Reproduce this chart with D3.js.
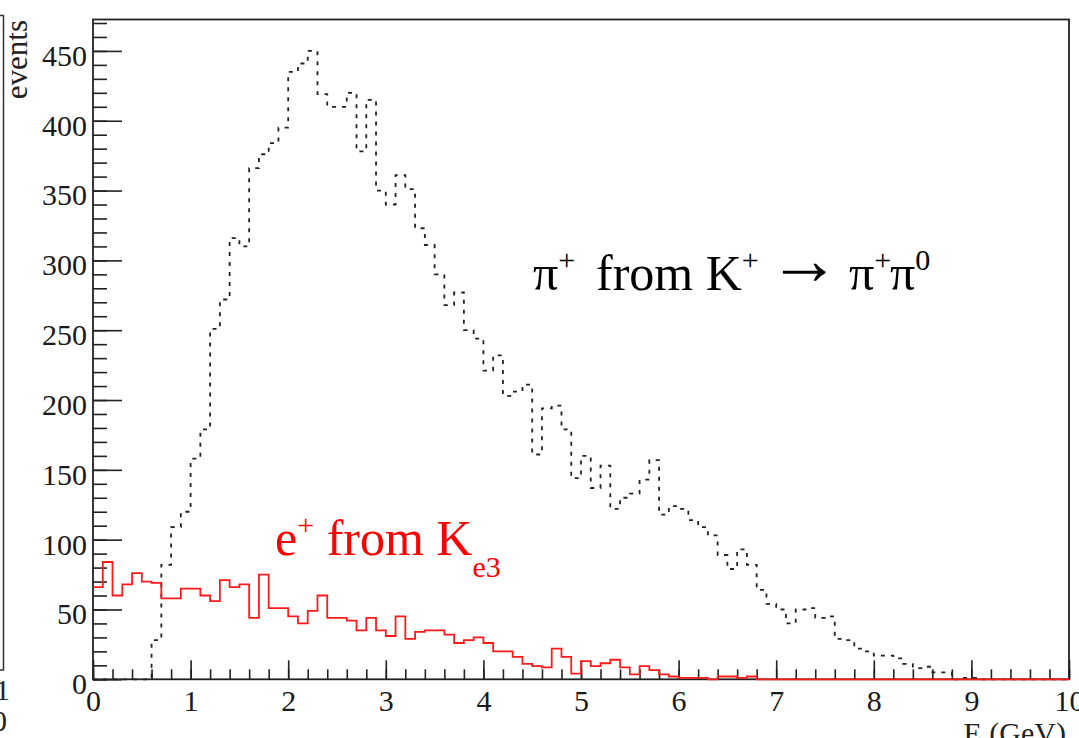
<!DOCTYPE html>
<html>
<head>
<meta charset="utf-8">
<script src="https://cdn.jsdelivr.net/npm/d3@7"></script>
<style>
  body { margin: 0; background: #fff; }
  svg { display: block; font-family: "Liberation Serif", "Times New Roman", serif; }
  .tick line { stroke: #222; stroke-width: 1.6; }
  .tick text { font-family: "Liberation Serif", "Times New Roman", serif; font-size: 30px; fill: #1a1a1a; }
</style>
</head>
<body>
<svg id="chart" width="1079" height="738"></svg>
<script>
// bins of 0.1 GeV from 0 to 10
var binWidth = 0.1;
var piPlus = [0, 0, 0, 0, 0, 0, 28, 82, 109, 120,
	158, 179, 251, 272, 316, 310, 366, 376, 384, 395,
	435, 441, 450, 419, 410, 410, 420, 378, 415, 350,
	340, 361, 351, 323, 311, 290, 268, 277, 250, 244,
	221, 232, 203, 206, 211, 161, 194, 196, 179, 144,
	160, 137, 153, 122, 130, 133, 143, 157, 118, 124,
	122, 114, 109, 103, 89, 79, 93, 82, 64, 54,
	50, 40, 50, 51, 44, 45, 29, 28, 22, 20,
	17, 17, 15, 11, 8, 9, 5, 5, 0, 1,
	1, 0, 0, 0, 0, 0, 0, 0, 0, 0];
var ePlus = [66, 84, 60, 68, 76, 70, 69, 58, 58, 65,
	65, 60, 56, 71, 66, 68, 44, 75, 51, 51,
	45, 40, 49, 60, 44, 44, 42, 35, 44, 35,
	31, 45, 29, 34, 35, 35, 32, 26, 28, 30,
	26, 20, 20, 16, 11, 9.5, 8.5, 22, 16, 4,
	13, 9.5, 11.5, 14, 8.5, 3.5, 9.5, 6.5, 3.5, 2,
	1, 1, 1, 0, 2, 2, 1, 2, 0, 0,
	0, 0, 0, 0, 0, 0, 0, 0, 0, 0,
	0, 0, 0, 0, 0, 0, 0, 0, 0, 0,
	0, 0, 0, 0, 0, 0, 0, 0, 0, 0];
var xMajor = [0, 1, 2, 3, 4, 5, 6, 7, 8, 9, 10];
var yMajor = [0, 50, 100, 150, 200, 250, 300, 350, 400, 450];

var padL = 93, padR = 1069, padT = 19.5, padB = 679.3;
var svg = d3.select('#chart');

var x = d3.scaleLinear().domain([0, 10]).range([padL, padR]);
var y = d3.scaleLinear().domain([0, 472.5]).range([padB, padT]);

// partial neighbouring pad on the far left
svg.append('path')
	.attr('d', 'M0,15.5H3.5V670H0')
	.attr('fill', 'none')
	.attr('stroke', '#333')
	.attr('stroke-width', 1.5);
svg.append('text').attr('x', -5).attr('y', 700).attr('font-size', 30).attr('fill', '#222').text('1');
svg.append('text').attr('x', -8).attr('y', 731).attr('font-size', 30).attr('fill', '#222').text('0');

// minor ticks
svg.append('g')
	.attr('transform', 'translate(' + padL + ',0)')
	.call(d3.axisLeft(y).tickValues(d3.range(0, 471, 10)).tickSizeInner(-14).tickSizeOuter(0).tickFormat(''))
	.call(function(g){ g.select('.domain').remove(); });
svg.append('g')
	.attr('transform', 'translate(0,' + padB + ')')
	.call(d3.axisBottom(x).tickValues(d3.range(0, 10.01, 0.2)).tickSizeInner(-10).tickSizeOuter(0).tickFormat(''))
	.call(function(g){ g.select('.domain').remove(); });

// major ticks with labels
svg.append('g')
	.attr('transform', 'translate(' + padL + ',0)')
	.call(d3.axisLeft(y).tickValues(yMajor).tickSizeInner(-29).tickSizeOuter(0).tickPadding(6))
	.call(function(g){
		g.select('.domain').remove();
		g.selectAll('.tick text').attr('dy', '0.48em');
	});
svg.append('g')
	.attr('transform', 'translate(0,' + padB + ')')
	.call(d3.axisBottom(x).tickValues(xMajor).tickSizeInner(-19).tickSizeOuter(0).tickPadding(10))
	.call(function(g){ g.select('.domain').remove(); });

// frame
svg.append('rect')
	.attr('x', padL).attr('y', padT)
	.attr('width', padR - padL).attr('height', padB - padT)
	.attr('fill', 'none')
	.attr('stroke', '#222')
	.attr('stroke-width', 1.8);

// histograms as step lines
function steps(vals){
	var pts = vals.map(function(v, i){ return [i * binWidth, v]; });
	pts.push([vals.length * binWidth, vals[vals.length - 1]]);
	return pts;
}
var line = d3.line()
	.x(function(d){ return x(d[0]); })
	.y(function(d){ return y(d[1]); })
	.curve(d3.curveStepAfter);

svg.append('path')
	.datum(steps(piPlus))
	.attr('d', line)
	.attr('fill', 'none')
	.attr('stroke', '#222')
	.attr('stroke-width', 1.8)
	.attr('stroke-dasharray', '4,6');
svg.append('path')
	.datum(steps(ePlus))
	.attr('d', line)
	.attr('fill', 'none')
	.attr('stroke', '#ff1a1a')
	.attr('stroke-width', 1.8);

// axis titles
svg.append('text')
	.attr('transform', 'translate(27,20) rotate(-90)')
	.attr('text-anchor', 'end')
	.attr('font-size', 31)
	.attr('fill', '#222')
	.text('events');
svg.append('text')
	.attr('x', 1066).attr('y', 743)
	.attr('text-anchor', 'end')
	.attr('font-size', 30)
	.attr('fill', '#222')
	.text('E (GeV)');

// annotations
var t1 = svg.append('text')
	.attr('y', 290)
	.attr('font-size', 50)
	.attr('fill', '#000');
t1.append('tspan').attr('x', 533).text('π');
t1.append('tspan').attr('font-size', 30).attr('dy', -20).text('+');
t1.append('tspan').attr('x', 596).attr('dy', 20).text('from K');
t1.append('tspan').attr('font-size', 30).attr('dy', -20).text('+');
t1.append('tspan').attr('x', 768).attr('font-size', 72).attr('dy', 14).text('→');
t1.append('tspan').attr('x', 849).attr('dy', 6).text('π');
t1.append('tspan').attr('font-size', 30).attr('dy', -20).text('+');
t1.append('tspan').attr('x', 890).attr('dy', 20).text('π');
t1.append('tspan').attr('font-size', 30).attr('dy', -20).text('0');

var t2 = svg.append('text')
	.attr('x', 275).attr('y', 555)
	.attr('font-size', 50)
	.attr('fill', '#ff0000');
t2.append('tspan').text('e');
t2.append('tspan').attr('font-size', 30).attr('dy', -20).text('+');
t2.append('tspan').attr('dy', 20).text(' from K');
t2.append('tspan').attr('font-size', 30).attr('dy', 22).text('e3');
</script>
</body>
</html>
